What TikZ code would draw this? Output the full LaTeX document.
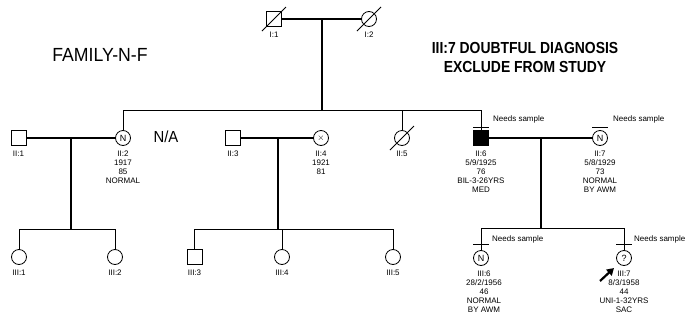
\documentclass[tikz,border=0pt]{standalone}
\usepackage{fontspec}
\setmainfont{Liberation Sans}
\usepackage{graphicx}
\usetikzlibrary{arrows.meta,positioning}
\tikzset{
	male/.style={draw, line width=0.8pt, minimum size=15pt, inner sep=0pt, fill=white},
	female/.style={draw, circle, line width=0.8pt, minimum size=15pt, inner sep=0pt, fill=white, font=\fontsize{9}{9}\selectfont},
	affected/.style={male, fill=black},
	info/.style={align=center, inner sep=0pt, font=\fontsize{8}{9}\selectfont},
	needs/.style={inner sep=0pt, font=\fontsize{8}{9}\selectfont},
	mate/.style={line width=1.2pt},
	descent/.style={line width=1.6pt},
	sib/.style={line width=0.9pt},
	dead/.style={line width=0.8pt},
	proband/.style={-{Triangle[length=7pt,width=8pt]}, line width=2.2pt}
}

\begin{document}
\begin{tikzpicture}[x=1pt, y=-1pt]
	\useasboundingbox (0,0) rectangle (686,322);
	% generation I
	\node[male] (i1) at (274,19) {};
	\node[female] (i2) at (369,19) {};
	% generation II
	\node[male] (ii1) at (18.5,138) {};
	\node[female] (ii2) at (123,138) {N};
	\node[male] (ii3) at (233,138) {};
	\node[female] (ii4) at (321,138) {$\times$};
	\node[female] (ii5) at (402,138) {};
	\node[affected] (ii6) at (481,138) {};
	\node[female] (ii7) at (600,138) {N};
	% generation III
	\node[female] (iii1) at (19,257) {};
	\node[female] (iii2) at (115,257) {};
	\node[male] (iii3) at (194.5,257) {};
	\node[female] (iii4) at (282,257) {};
	\node[female] (iii5) at (393,257) {};
	\node[female] (iii6) at (481,258) {N};
	\node[female] (iii7) at (624,258) {?};
	% labels
	\node[info, below=5pt of i1] (li1) {I:1};
	\node[info, below=5pt of i2] (li2) {I:2};
	\node[info, below=5pt of ii1] (lii1) {II:1};
	\node[info, below=5pt of ii2] (lii2) {II:2\\1917\\85\\NORMAL};
	\node[info, below=5pt of ii3] (lii3) {II:3};
	\node[info, below=5pt of ii4] (lii4) {II:4\\1921\\81};
	\node[info, below=5pt of ii5] (lii5) {II:5};
	\node[info, below=5pt of ii6] (lii6) {II:6\\5/9/1925\\76\\BIL-3-26YRS\\MED};
	\node[info, below=5pt of ii7] (lii7) {II:7\\5/8/1929\\73\\NORMAL\\BY AWM};
	\node[info, below=5pt of iii1] (liii1) {III:1};
	\node[info, below=5pt of iii2] (liii2) {III:2};
	\node[info, below=5pt of iii3] (liii3) {III:3};
	\node[info, below=5pt of iii4] (liii4) {III:4};
	\node[info, below=5pt of iii5] (liii5) {III:5};
	\node[info, below=5pt of iii6, xshift=3pt] (liii6) {III:6\\28/2/1956\\46\\NORMAL\\BY AWM};
	\node[info, below=5pt of iii7] (liii7) {III:7\\8/3/1958\\44\\UNI-1-32YRS\\SAC};
	% headings
	\node[font=\fontsize{19}{19}\selectfont] (family) at (100,55) {\scalebox{0.93}[1]{FAMILY-N-F}};
	\node[font=\fontsize{16}{16}\selectfont] (na) at (166,137) {\scalebox{0.93}[1]{N/A}};
	\node[font=\fontsize{16}{19}\selectfont\bfseries, align=center] (note) at (525,57.5)
		{\scalebox{0.87}[1]{III:7 DOUBTFUL DIAGNOSIS}\\\scalebox{0.87}[1]{EXCLUDE FROM STUDY}};
	% deceased
	\draw[dead] (i1.center) ++(-12,12) -- ++(24,-24);
	\draw[dead] (i2.center) ++(-12,12) -- ++(24,-24);
	\draw[dead] (ii5.center) ++(-12,12) -- ++(24,-24);
	% generation I family
	\coordinate (mi) at (322,19);
	\coordinate (si) at (322,110);
	\draw[mate] (i1) -- (i2);
	\draw[descent] (mi) -- (si);
	\draw[sib] (ii2.north) -- (ii2 |- si) -- (ii6 |- si) -- (ii6.north);
	\draw[sib] (ii5 |- si) -- (ii5.north);
	% II:1 x II:2
	\coordinate (ma) at (71,138);
	\coordinate (sa) at (71,229);
	\draw[mate] (ii1) -- (ii2);
	\draw[descent] (ma) -- (sa);
	\draw[sib] (iii1.north) -- (iii1 |- sa) -- (iii2 |- sa) -- (iii2.north);
	% II:3 x II:4
	\coordinate (mb) at (278,138);
	\coordinate (sb) at (278,229);
	\draw[mate] (ii3) -- (ii4);
	\draw[descent] (mb) -- (sb);
	\draw[sib] (iii3.north) -- (iii3 |- sb) -- (iii5 |- sb) -- (iii5.north);
	\draw[sib] (iii4 |- sb) -- (iii4.north);
	% II:6 x II:7
	\coordinate (mc) at (541,138);
	\coordinate (sc) at (541,228);
	\draw[mate] (ii6) -- (ii7);
	\draw[descent] (mc) -- (sc);
	\draw[sib] (iii6.north) -- (iii6 |- sc) -- (iii7 |- sc) -- (iii7.north);
	% needs sample
	\coordinate (barii6) at (481,127);
	\coordinate (barii7) at (600,127);
	\coordinate (bariii6) at (481,244);
	\coordinate (bariii7) at (624,244);
	\draw[sib] (barii6) ++(-8,0) -- ++(16,0);
	\draw[sib] (barii7) ++(-8,0) -- ++(16,0);
	\draw[sib] (bariii6) ++(-8,0) -- ++(16,0);
	\draw[sib] (bariii7) ++(-8,0) -- ++(16,0);
	\node[needs, right=12pt of barii6, yshift=8pt] (nii6) {Needs sample};
	\node[needs, right=13pt of barii7, yshift=8pt] (nii7) {Needs sample};
	\node[needs, right=11pt of bariii6, yshift=5pt] (niii6) {Needs sample};
	\node[needs, right=10pt of bariii7, yshift=5pt] (niii7) {Needs sample};
	% proband
	\coordinate (arrtail) at (600,281);
	\coordinate (arrtip) at (614,268);
	\draw[proband] (arrtail) -- (arrtip);
\end{tikzpicture}
\end{document}
